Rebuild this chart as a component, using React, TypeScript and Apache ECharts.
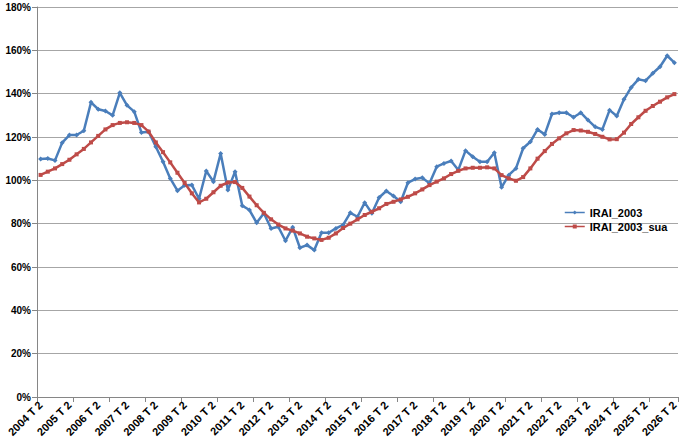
import React, { useEffect, useRef } from "react";
import * as echarts from "echarts";

const startYear = 2004;
const endYear = 2026;

const irai2003 = [
  109.8, 110.1, 109.2, 117.4, 120.9, 120.9, 122.9, 136.0, 132.8, 132.0,
  130.0, 140.4, 134.6, 131.7, 122.1, 122.4, 115.5, 108.6, 100.9, 95.2,
  97.7, 97.8, 91.5, 104.3, 99.4, 112.4, 95.5, 104.0, 88.3, 86.3,
  80.4, 84.8, 77.8, 78.6, 72.1, 78.3, 68.9, 70.1, 67.8, 75.8,
  75.8, 77.8, 79.4, 85.0, 83.2, 89.7, 84.8, 92.1, 95.1, 92.8,
  90.1, 98.9, 100.6, 101.2, 98.6, 106.3, 107.8, 108.9, 104.8, 113.7,
  110.9, 108.6, 108.6, 112.7, 96.8, 102.4, 105.5, 114.8, 117.8, 123.5,
  121.2, 130.6, 131.2, 131.2, 129.1, 131.2, 127.8, 124.7, 123.5, 132.4,
  129.7, 137.4, 142.9, 146.6, 146.0, 149.4, 152.4, 157.5, 154.3,
];

const irai2003Sua = [
  102.5, 104.0, 105.5, 107.5, 109.5, 112.0, 114.5, 117.5, 120.5, 123.5,
  125.5, 126.5, 126.8, 126.5, 125.5, 122.5, 117.5, 113.0, 108.3, 103.5,
  98.8, 94.0, 89.8, 91.5, 94.5, 97.5, 99.0, 99.2, 96.5, 92.5,
  88.5, 85.0, 82.0, 79.6, 77.8, 76.8, 75.5, 74.0, 73.2, 72.5,
  73.5, 75.5, 78.0, 80.0, 82.0, 84.0, 85.5, 87.1, 89.1, 90.1,
  91.2, 92.4, 94.0, 95.8, 97.8, 99.4, 100.9, 102.9, 104.4, 105.5,
  105.8, 105.8, 106.0, 105.5, 102.4, 100.9, 99.8, 101.5, 105.5, 110.0,
  113.5, 116.8, 119.4, 121.7, 123.2, 123.0, 122.4, 121.4, 120.1, 118.9,
  119.0, 122.0, 126.0, 129.1, 132.1, 134.3, 136.3, 138.3, 139.8,
];

const yTicks = [0, 20, 40, 60, 80, 100, 120, 140, 160, 180];

function buildCategories(): string[] {
  const out: string[] = [];
  for (let y = startYear; y <= endYear; y++) {
    for (let q = 1; q <= 4; q++) {
      if (y === startYear && q < 2) continue;
      if (y === endYear && q > 2) continue;
      out.push(`${y} T ${q}`);
    }
  }
  return out;
}

const categories = buildCategories();

export default function App() {
  const ref = useRef<HTMLDivElement>(null);
  useEffect(() => {
    document.body.style.margin = "0";
    if (!ref.current) return;
    const chart = echarts.init(ref.current, null, { renderer: "svg" });
    const font = "Liberation Sans, Arial, sans-serif";
    chart.setOption({
      animation: false,
      backgroundColor: "#ffffff",
      textStyle: { fontFamily: font },
      grid: { left: 37, right: 11, top: 7, bottom: 48, containLabel: false },
      legend: {
        orient: "vertical",
        left: 564,
        top: 207,
        padding: 0,
        itemWidth: 20,
        itemHeight: 5,
        itemGap: 3,
        lineStyle: { width: 1.5 },
        textStyle: { fontSize: 11, fontWeight: "bold", color: "#000", fontFamily: font },
        data: ["IRAI_2003", "IRAI_2003_sua"],
      },
      xAxis: {
        type: "category",
        data: categories,
        boundaryGap: true,
        axisLine: { lineStyle: { color: "#868686", width: 1 } },
        axisTick: { show: true, interval: 4, length: 5, lineStyle: { color: "#868686" } },
        axisLabel: {
          interval: 3,
          rotate: 45,
          fontSize: 11,
          fontWeight: "bold",
          color: "#000",
          margin: 6,
          fontFamily: font,
        },
        splitLine: { show: false },
      },
      yAxis: {
        type: "value",
        min: yTicks[0],
        max: yTicks[yTicks.length - 1],
        interval: 20,
        axisLine: { show: true, lineStyle: { color: "#868686", width: 1 } },
        axisTick: { show: true, length: 5, lineStyle: { color: "#868686" } },
        axisLabel: {
          formatter: "{value}%",
          fontSize: 10,
          fontWeight: "bold",
          color: "#000",
          margin: 6,
          fontFamily: font,
        },
        splitLine: { show: true, lineStyle: { color: "#a6a6a6", width: 1 } },
      },
      series: [
        {
          name: "IRAI_2003",
          type: "line",
          data: irai2003,
          symbol: "diamond",
          symbolSize: 5,
          showAllSymbol: true,
          lineStyle: { color: "#4a7ebb", width: 2.5 },
          itemStyle: { color: "#4a7ebb" },
          z: 2,
        },
        {
          name: "IRAI_2003_sua",
          type: "line",
          data: irai2003Sua,
          symbol: "rect",
          symbolSize: 4,
          showAllSymbol: true,
          lineStyle: { color: "#be4b48", width: 2.5 },
          itemStyle: { color: "#be4b48" },
          z: 3,
        },
      ],
    });
    return () => chart.dispose();
  }, []);
  return <div ref={ref} style={{ width: 689, height: 445 }} />;
}
